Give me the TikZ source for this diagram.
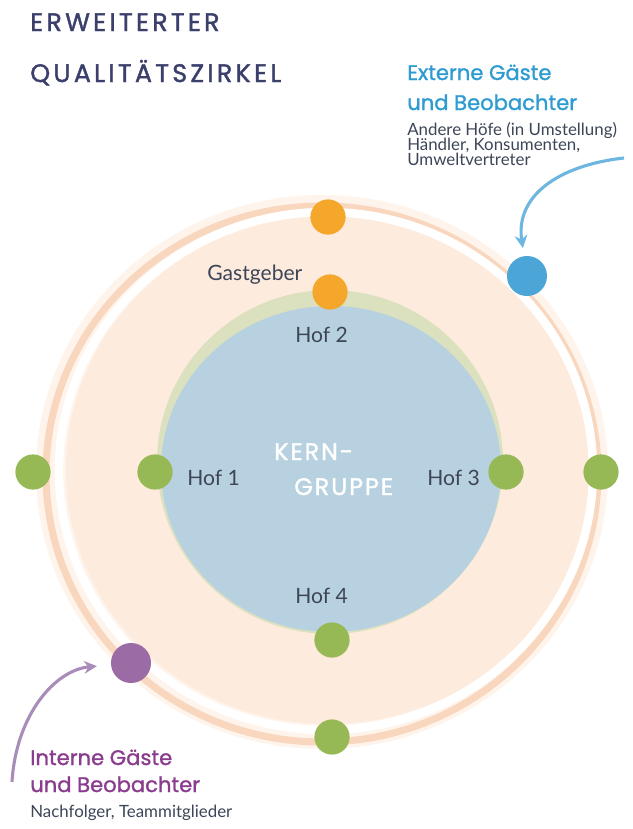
\documentclass[tikz,border=0pt]{standalone}
\usepackage{fontspec}
\setmainfont{Lato}
\newfontfamily\headfont[LetterSpace=13,FakeBold=1.5]{Poppins}
\newfontfamily\labelfont[FakeBold=1.2]{Poppins}
\newfontfamily\kernfont[LetterSpace=8,FakeBold=1.5]{Poppins}
\usetikzlibrary{arrows.meta}
\definecolor{navy}{HTML}{3B3F6C}
\definecolor{extblue}{HTML}{2E9CD1}
\definecolor{intpurple}{HTML}{8A3D8E}
\definecolor{inkgray}{HTML}{3D4658}
\definecolor{peachlight}{HTML}{FDEBDD}
\definecolor{peachhalo}{HTML}{FEF4EC}
\definecolor{peachdark}{HTML}{F9D6BE}
\definecolor{kernblue}{HTML}{B8D1E0}
\definecolor{ringgreen}{HTML}{DBE1BF}
\definecolor{dotgreen}{HTML}{97B955}
\definecolor{dotorange}{HTML}{F4A72B}
\definecolor{dotblue}{HTML}{4BA5D6}
\definecolor{dotpurple}{HTML}{9B6BA5}
\definecolor{arrowblue}{HTML}{6DB6DF}
\definecolor{arrowpurple}{HTML}{A98CB9}
\tikzset{
  hofdot/.style={circle,fill=#1,inner sep=0pt,minimum size=0.88cm},
  guestdot/.style={circle,fill=#1,inner sep=0pt,minimum size=1.0cm},
  txt/.style={anchor=base west,inner sep=0pt},
  hoflabel/.style={txt,text=inkgray,font=\fontsize{15}{15}\selectfont},
  titlelabel/.style={txt,text=navy,font=\headfont\fontsize{18}{18}\selectfont},
  guesthead/.style={txt,text=#1,font=\labelfont\fontsize{15}{15}\selectfont},
  guestsub/.style={txt,text=inkgray,font=\fontsize{12}{12}\selectfont},
  kernlabel/.style={txt,text=white,font=\kernfont\fontsize{17}{17}\selectfont},
  guestarrow/.style={draw=#1,line width=2.2pt,-{Stealth[length=9pt,width=9pt]}}
}
\begin{document}
\begin{tikzpicture}[x=0.025cm,y=-0.025cm]
\useasboundingbox (0,0) rectangle (632,829);
\fill[white] (0,0) rectangle (632,829);

\fill[peachhalo] (322,472) ellipse [x radius=286, y radius=277];
\draw[peachdark,line width=5pt] (322,474) ellipse [x radius=276, y radius=268];
\fill[peachlight] (328,470) ellipse [x radius=262, y radius=254];
\draw[white,line width=6pt] (326,471) ellipse [x radius=267, y radius=259];
\fill[ringgreen] (330,462) ellipse [x radius=173, y radius=172];
\fill[kernblue] (331,469) ellipse [x radius=170, y radius=163];

\node[titlelabel] (title1) at (30,31) {ERWEITERTER};
\node[titlelabel] (title2) at (30,82) {QUALITÄTSZIRKEL};

\node[guesthead=extblue] (ext1) at (407,80) {Externe Gäste};
\node[guesthead=extblue] (ext2) at (407,110) {und Beobachter};
\node[guestsub] (extsub1) at (407,135) {Andere Höfe (in Umstellung)};
\node[guestsub] (extsub2) at (407,150) {Händler, Konsumenten,};
\node[guestsub] (extsub3) at (407,165) {Umweltvertreter};

\node[guesthead=intpurple] (int1) at (30,765) {Interne Gäste};
\node[guesthead=intpurple] (int2) at (30,792) {und Beobachter};
\node[guestsub] (intsub) at (30,817) {Nachfolger, Teammitglieder};

\node[kernlabel] (kern1) at (274,460) {KERN-};
\node[kernlabel] (kern2) at (294,495) {GRUPPE};

\node[hoflabel] (gast) at (207,280) {Gastgeber};
\node[hoflabel] (hof2) at (295,342) {Hof 2};
\node[hoflabel] (hof1) at (187,485) {Hof 1};
\node[hoflabel] (hof3) at (427,485) {Hof 3};
\node[hoflabel] (hof4) at (295,603) {Hof 4};

\node[hofdot=dotorange] (top out) at (328,217) {};
\node[hofdot=dotorange] (top in) at (330,292) {};
\node[hofdot=dotgreen] (left out) at (33,472) {};
\node[hofdot=dotgreen] (left in) at (155,472) {};
\node[hofdot=dotgreen] (right in) at (506,472) {};
\node[hofdot=dotgreen] (right out) at (601,472) {};
\node[hofdot=dotgreen] (bottom in) at (332,640) {};
\node[hofdot=dotgreen] (bottom out) at (332,737) {};
\node[guestdot=dotblue] (ext dot) at (527,276) {};
\node[guestdot=dotpurple] (int dot) at (131,663) {};

\coordinate (ext from) at (624,158);
\coordinate (int from) at (12,782);
\draw[guestarrow=arrowblue,shorten >=0.2cm] (ext from) .. controls (560,165) and (515,195) .. (ext dot);
\draw[guestarrow=arrowpurple,shorten >=0.35cm] (int from) .. controls (16,715) and (55,670) .. (int dot);
\end{tikzpicture}
\end{document}
